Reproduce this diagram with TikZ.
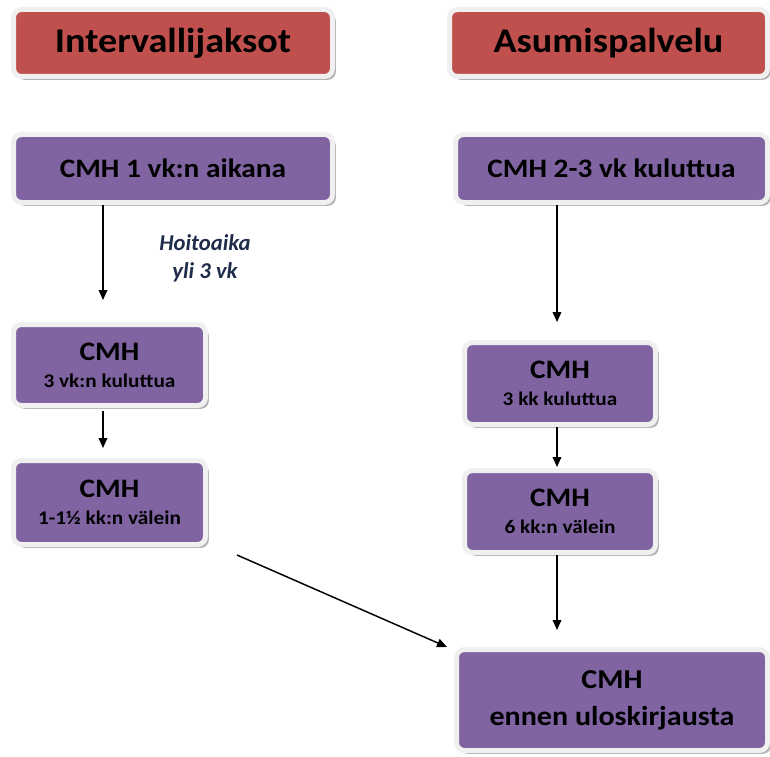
\documentclass[tikz,border=0pt]{standalone}
\usepackage{fontspec}
\setmainfont{Carlito}[FakeStretch=1.1]
\newfontfamily\labfont{Carlito}
\usetikzlibrary{arrows.meta,shadows}
\definecolor{hdred}{HTML}{C0504D}
\definecolor{boxpurple}{HTML}{8064A2}
\definecolor{rimgray}{HTML}{F0F0F0}
\definecolor{labnavy}{HTML}{1F2D4A}
\tikzset{
  x=0.75pt, y=-0.75pt,
  basebox/.style={draw=rimgray, line width=3.75pt, rounded corners=6pt, align=center, inner sep=0pt,
    text=black, font=\bfseries,
    drop shadow={shadow xshift=2.5pt, shadow yshift=-2.5pt, fill=black, opacity=0.3}},
  hdbox/.style={basebox, fill=hdred, font=\bfseries\fontsize{26}{28}\selectfont},
  pbox/.style={basebox, fill=boxpurple},
  arr/.style={line width=1.1pt, -{Triangle[length=7.5pt,width=6.5pt]}},
  lab/.style={text=labnavy, font=\labfont\bfseries\itshape\fontsize{17}{20}\selectfont}
}
\newcommand{\twoline}[2]{{\fontsize{20}{20.25}\selectfont #1}\\{\fontsize{14.5}{20.25}\selectfont #2}}
\begin{document}
\begin{tikzpicture}
\useasboundingbox[fill=white] (0,0) rectangle (770,756);
\node[hdbox, minimum width=319*0.75pt, minimum height=67*0.75pt] (h1) at (173,43) {Intervallijaksot};
\node[hdbox, minimum width=318*0.75pt, minimum height=67*0.75pt] (h2) at (608.5,43) {Asumispalvelu};
\node[pbox, minimum width=319*0.75pt, minimum height=68*0.75pt, font=\bfseries\fontsize{20}{24}\selectfont] (a1) at (173,168.5) {CMH 1 vk:n aikana};
\node[pbox, minimum width=312*0.75pt, minimum height=68*0.75pt, font=\bfseries\fontsize{20}{24}\selectfont] (b1) at (611.5,168.5) {CMH 2-3 vk kuluttua};
\node[pbox, minimum width=192*0.75pt, minimum height=81*0.75pt, font=\bfseries\fontsize{20}{20.25}\selectfont] (a2) at (109.5,365)
  {\twoline{CMH}{3 vk:n kuluttua}};
\node[pbox, minimum width=192*0.75pt, minimum height=84*0.75pt, font=\bfseries\fontsize{20}{20.25}\selectfont] (a3) at (109.5,502.5)
  {\twoline{CMH}{1-1½ kk:n välein}};
\node[pbox, minimum width=191*0.75pt, minimum height=82*0.75pt, font=\bfseries\fontsize{20}{20.25}\selectfont] (b2) at (560,383.5)
  {\twoline{CMH}{3 kk kuluttua}};
\node[pbox, minimum width=191*0.75pt, minimum height=82*0.75pt, font=\bfseries\fontsize{20}{20.25}\selectfont] (b3) at (560,511.5)
  {\twoline{CMH}{6 kk:n välein}};
\node[pbox, minimum width=311*0.75pt, minimum height=101*0.75pt, font=\bfseries\fontsize{20.5}{27.75}\selectfont] (fin) at (612,700)
  {CMH\\ennen uloskirjausta};
\node[lab] (l1) at (205,243) {Hoitoaika};
\node[lab] (l2) at (205,272) {yli 3 vk};
\coordinate (t1) at (103,300);
\coordinate (t2) at (103,448);
\coordinate (t3) at (557,322);
\coordinate (t4) at (557,467);
\coordinate (t5) at (557,630);
\coordinate (s6) at (237,555);
\coordinate (t6) at (447,647);
\draw[arr] (a1.south -| t1) -- (t1);
\draw[arr] ([yshift=-2pt]a2.south -| t2) -- (t2);
\draw[arr] (b1.south -| t3) -- (t3);
\draw[arr] (b2.south -| t4) -- (t4);
\draw[arr] (b3.south -| t5) -- (t5);
\draw[arr] (s6) -- (t6);
\end{tikzpicture}
\end{document}
